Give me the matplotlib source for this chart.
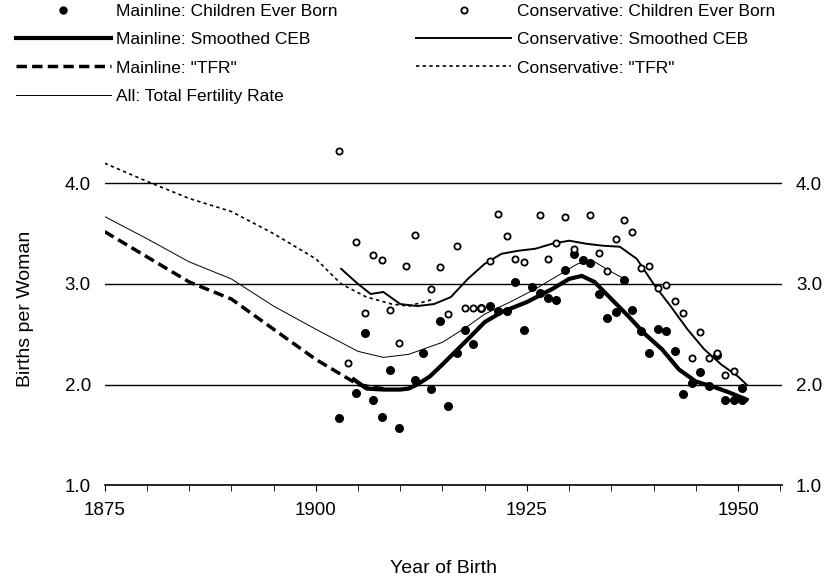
import matplotlib
matplotlib.use("Agg")
import matplotlib.pyplot as plt
from matplotlib.lines import Line2D

plt.rcParams['font.family'] = ['Liberation Sans', 'DejaVu Sans']

main_ceb_x = [1902.8,1904.8,1905.8,1906.8,1907.8,1908.8,1909.8,1911.8,1912.7,1913.7,1914.7,1915.7,1916.7,1917.7,1918.6,1919.6,1920.6,1921.6,1922.6,1923.6,1924.6,1925.6,1926.5,1927.5,1928.5,1929.5,
              1930.6,1931.6,1932.5,1933.5,1934.5,1935.5,1936.5,1937.5,1938.5,1939.5,1940.5,1941.5,1942.5,1943.5,1944.5,1945.5,1946.5,1947.5,1948.5,1949.5,1950.5,1950.5]
main_ceb_y = [1.67,1.92,2.51,1.85,1.68,2.14,1.57,2.05,2.31,1.96,2.63,1.79,2.31,2.54,2.40,2.76,2.78,2.73,2.73,3.02,2.54,2.97,2.91,2.86,2.84,3.14,
              3.30,3.24,3.21,2.90,2.66,2.72,3.04,2.74,2.53,2.31,2.55,2.53,2.33,1.91,2.02,2.12,1.99,2.29,1.85,1.85,1.85,1.97]
cons_ceb_x = [1902.8,1903.8,1904.8,1905.8,1906.8,1907.8,1908.8,1909.8,1910.7,1911.8,1913.7,1914.7,1915.7,1916.7,1917.7,1918.6,1919.6,1920.6,1921.6,1922.6,1923.6,1924.6,1926.5,1927.5,1928.5,1929.5,
              1930.6,1932.5,1933.5,1934.5,1935.5,1936.5,1937.5,1938.5,1939.5,1940.5,1941.5,1942.5,1943.5,1944.5,1945.5,1946.5,1947.5,1948.5,1949.5]
cons_ceb_y = [4.32,2.21,3.42,2.71,3.29,3.24,2.74,2.41,3.18,3.49,2.95,3.17,2.70,3.38,2.76,2.76,2.76,3.23,3.70,3.48,3.25,3.22,3.69,3.25,3.41,3.67,
              3.35,3.69,3.31,3.13,3.45,3.64,3.52,3.16,3.18,2.96,2.99,2.83,2.71,2.26,2.52,2.26,2.31,2.09,2.13]

main_smooth_x = [1904.5,1906,1908,1910,1911,1912,1913.5,1915,1918,1920,1922,1925,1928,1930,1931.5,1933,1935,1937,1939,1941,1943,1945,1947,1949,1951]
main_smooth_y = [2.05,1.96,1.95,1.95,1.96,2.0,2.08,2.2,2.45,2.62,2.72,2.82,2.95,3.05,3.08,3.02,2.85,2.68,2.5,2.35,2.15,2.03,1.98,1.92,1.85]
cons_smooth_x = [1903,1905,1906.5,1908,1910,1912,1914,1916,1918,1920,1922,1924,1926,1928,1930,1932,1934,1936,1938,1940,1942,1944,1946,1948,1950,1951]
cons_smooth_y = [3.15,3.0,2.9,2.92,2.8,2.78,2.8,2.87,3.05,3.2,3.3,3.33,3.35,3.4,3.43,3.4,3.38,3.37,3.25,3.0,2.78,2.55,2.35,2.2,2.08,2.0]
all_tfr_x = [1875,1880,1885,1890,1895,1900,1905,1908,1911,1915,1918,1920,1923,1926,1929,1931,1933,1935,1937]
all_tfr_y = [3.67,3.45,3.22,3.05,2.78,2.55,2.33,2.27,2.3,2.42,2.58,2.7,2.82,2.95,3.1,3.2,3.22,3.12,3.03]
cons_tfr_x = [1875,1880,1885,1890,1895,1900,1903,1906,1909,1911,1914]
cons_tfr_y = [4.2,4.02,3.85,3.72,3.5,3.25,3.0,2.87,2.8,2.78,2.85]
main_tfr_x = [1875,1880,1885,1890,1895,1900,1903,1905,1907,1908]
main_tfr_y = [3.52,3.27,3.02,2.85,2.55,2.25,2.1,2.0,1.97,1.96]

fig = plt.figure(figsize=(8.24, 5.81), dpi=100)
ax = fig.add_axes([0.127, 0.165, 0.822, 0.606])
ax.set_xlim(1875, 1955.2)
ax.set_ylim(1.0, 4.5)
for yv in [2, 3, 4]:
    ax.axhline(yv, color='black', lw=1.0, zorder=1)

ax.plot(main_tfr_x, main_tfr_y, color='black', lw=2.5, ls=(0, (3, 1.5)))
ax.plot(cons_tfr_x, cons_tfr_y, color='black', lw=1.2, ls=(0, (2, 2)))
ax.plot(all_tfr_x, all_tfr_y, color='black', lw=0.7)
ax.plot(cons_smooth_x, cons_smooth_y, color='black', lw=1.4)
ax.plot(main_smooth_x, main_smooth_y, color='black', lw=3)
ax.scatter(main_ceb_x, main_ceb_y, s=30, color='black', zorder=3)
ax.scatter(cons_ceb_x, cons_ceb_y, s=20, facecolor='white', edgecolor='black', lw=1.3, zorder=3)

for s in ['left', 'right', 'top']:
    ax.spines[s].set_visible(False)
ax.spines['bottom'].set_linewidth(1.2)
ax.set_xticks([1875, 1900, 1925, 1950])
ax.set_xticks(range(1875, 1956, 5), minor=True)
ax.tick_params(axis='x', which='both', direction='out', length=4, labelsize=13.5, pad=8)
ax.set_yticks([1, 2, 3, 4])
ax.set_yticklabels(['1.0', '2.0', '3.0', '4.0'])
ax.tick_params(axis='y', length=0, labelsize=13.5, labelright=True, pad=10)
ax.set_ylabel('Births per Woman', fontsize=14, labelpad=22)
ax.set_xlabel('Year of Birth', fontsize=14, labelpad=30)

handles = [
    Line2D([], [], ls='none', marker='o', ms=5, color='black', label='Mainline: Children Ever Born'),
    Line2D([], [], color='black', lw=3, label='Mainline: Smoothed CEB'),
    Line2D([], [], color='black', lw=2.5, ls=(0, (3, 1.5)), label='Mainline: "TFR"'),
    Line2D([], [], color='black', lw=0.7, label='All: Total Fertility Rate'),
    Line2D([], [], ls='none', marker='o', ms=4.5, mfc='white', mec='black', mew=1.3, label='Conservative: Children Ever Born'),
    Line2D([], [], color='black', lw=1.4, label='Conservative: Smoothed CEB'),
    Line2D([], [], color='black', lw=1.2, ls=(0, (2, 2)), label='Conservative: "TFR"'),
]
fig.legend(handles=handles, loc='upper left', bbox_to_anchor=(0.0, 1.02), ncol=2, frameon=False,
           fontsize=12.5, handlelength=5.5, columnspacing=4.5, labelspacing=0.75, handletextpad=0.3)
fig.savefig('out.png', dpi=100)
